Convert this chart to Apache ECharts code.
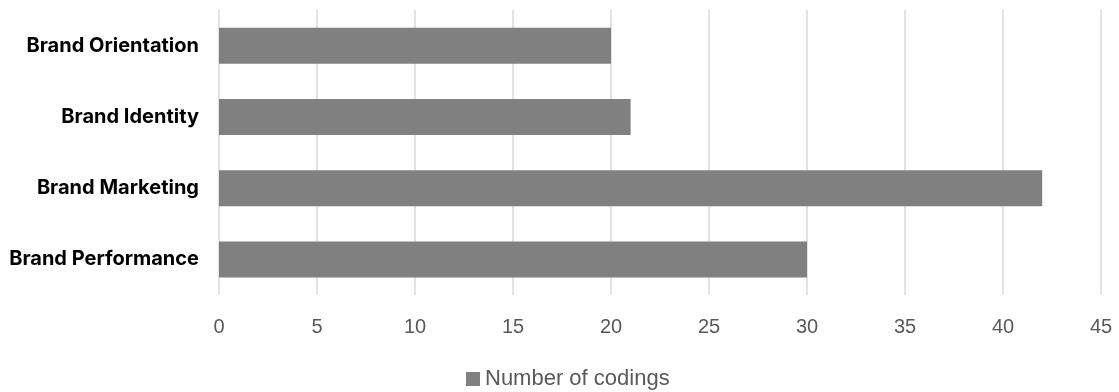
<!DOCTYPE html>
<html>
<head>
<meta charset="utf-8">
<script src="https://cdn.jsdelivr.net/npm/echarts@6/dist/echarts.min.js"></script>
<style>
  html, body { margin: 0; padding: 0; background: #fff; }
  #chart { width: 1119px; height: 392px; }
</style>
</head>
<body>
<div id="chart"></div>
<script>
// Coded themes and how often each was coded
const categories = ['Brand Orientation', 'Brand Identity', 'Brand Marketing', 'Brand Performance'];
const codings = [20, 21, 42, 30];
const seriesName = 'Number of codings';
const xTicks = { min: 0, max: 45, interval: 5 };

const chart = echarts.init(document.getElementById('chart'));
chart.setOption({
  animation: false,
  grid: { left: 219, right: 18, top: 10, bottom: 97, containLabel: false },
  legend: {
    data: [seriesName],
    top: 363,
    left: 461,
    itemWidth: 14,
    itemHeight: 14,
    itemGap: 6,
    icon: 'rect',
    textStyle: { color: '#595959', fontSize: 22, fontFamily: '"Liberation Sans", Arial, sans-serif' }
  },
  xAxis: {
    type: 'value',
    min: xTicks.min,
    max: xTicks.max,
    interval: xTicks.interval,
    axisLine: { show: false },
    axisTick: { show: false },
    splitLine: { show: true, lineStyle: { color: '#d9d9d9', width: 1.5 } },
    axisLabel: { color: '#595959', fontSize: 20, margin: 22, fontFamily: '"Liberation Sans", Arial, sans-serif' }
  },
  yAxis: {
    type: 'category',
    data: categories,
    inverse: true,
    axisLine: { show: false },
    axisTick: { show: false },
    axisLabel: { color: '#000', fontSize: 20, fontWeight: 'bold', margin: 20, fontFamily: 'Inter, "Open Sans", sans-serif' }
  },
  series: [{
    name: seriesName,
    type: 'bar',
    data: codings,
    barWidth: 36,
    itemStyle: { color: '#808080' }
  }]
});
</script>
</body>
</html>
